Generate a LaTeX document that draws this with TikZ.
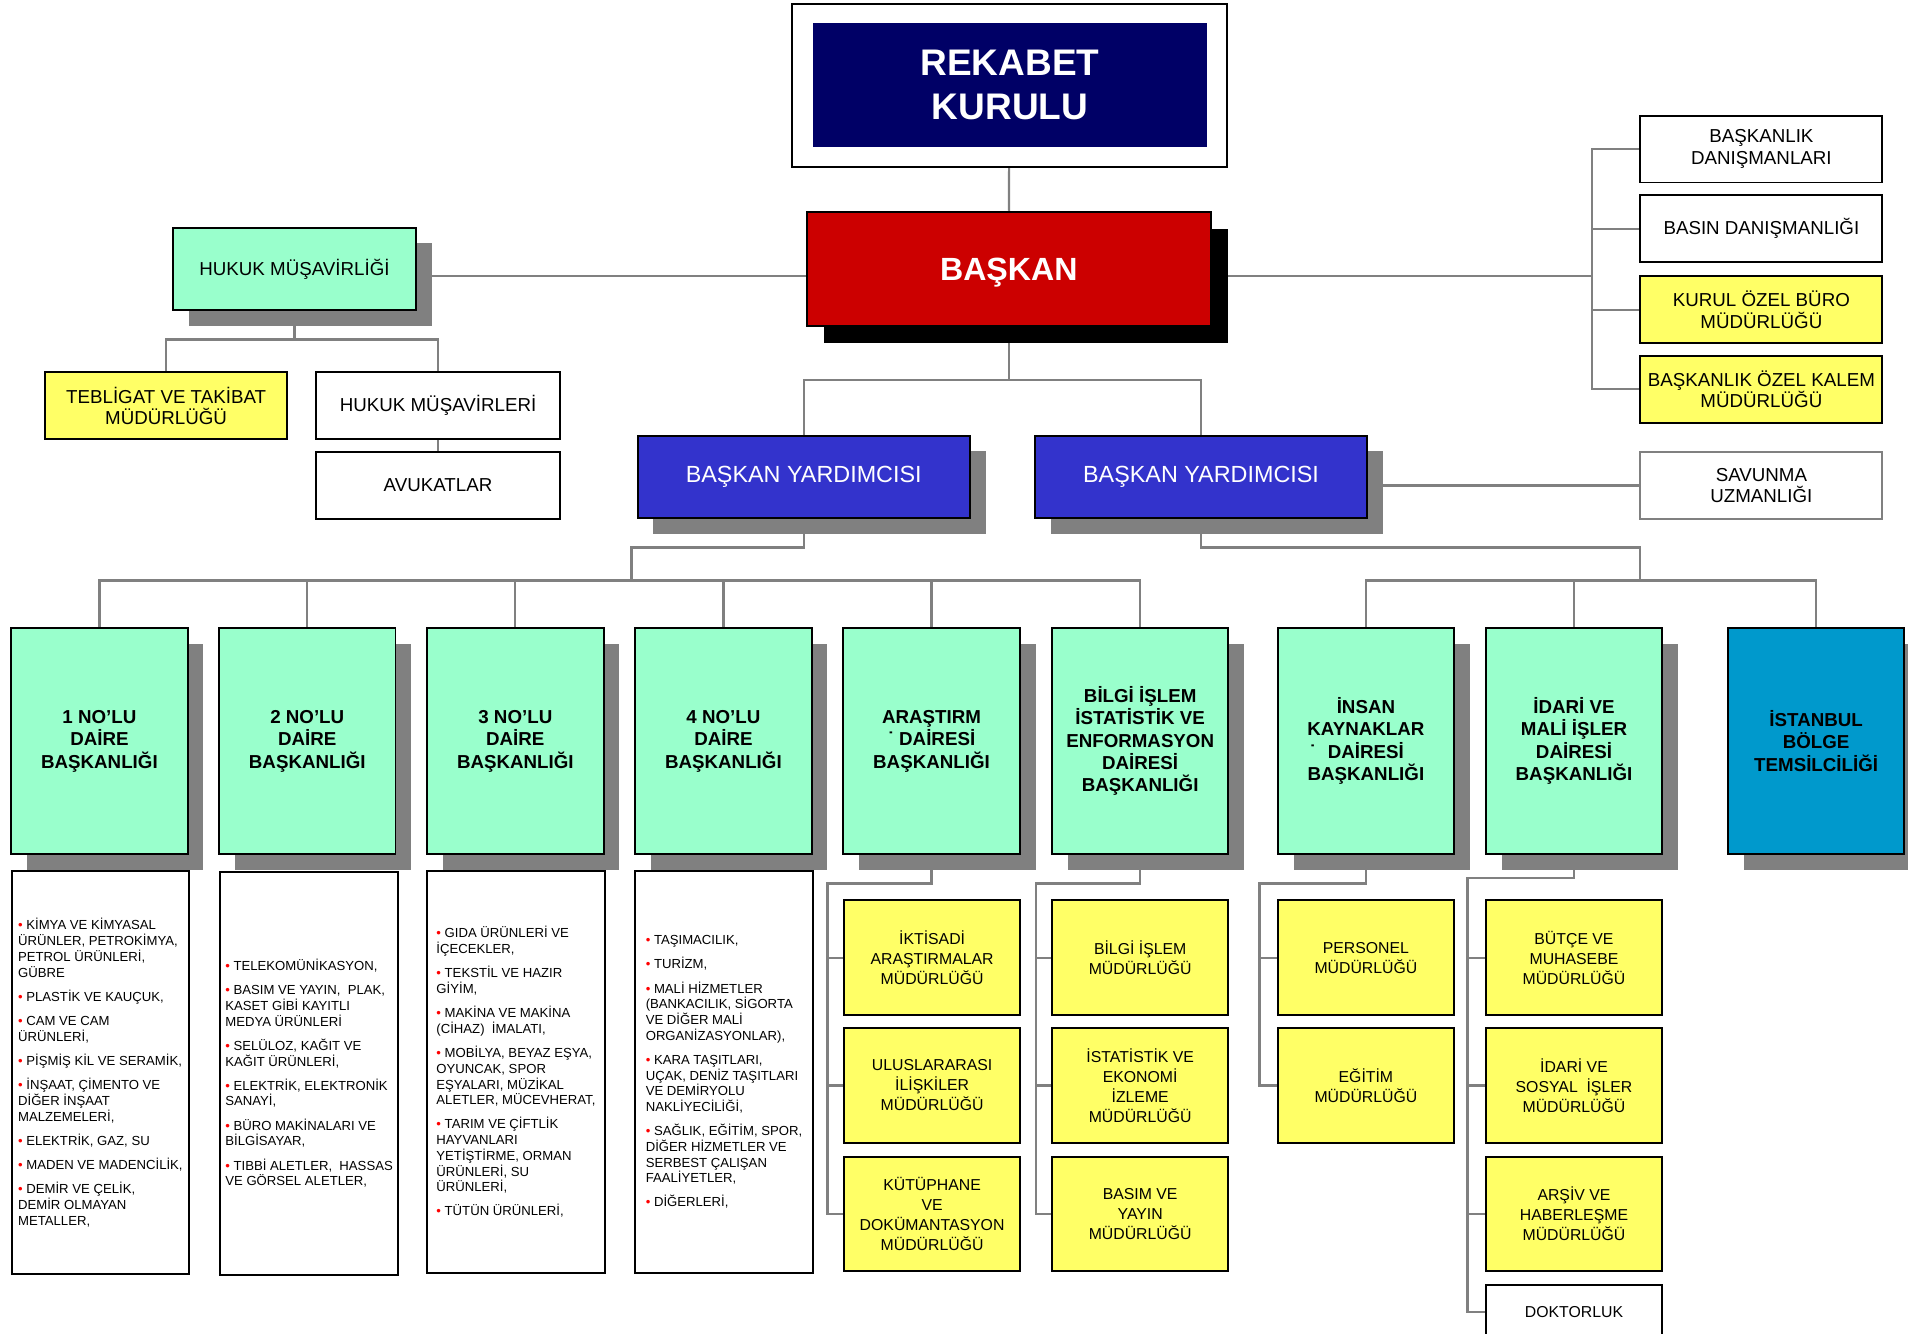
\documentclass[tikz,border=0pt]{standalone}
\usepackage{fontspec}
\setmainfont{Liberation Sans}
\usetikzlibrary{shadows}
\definecolor{navy}{HTML}{000066}
\definecolor{chiefred}{HTML}{CC0000}
\definecolor{vpblue}{HTML}{3333CC}
\definecolor{deptgreen}{HTML}{99FFCC}
\definecolor{unityellow}{HTML}{FFFF66}
\definecolor{regblue}{HTML}{0099CC}
\definecolor{shadowgray}{HTML}{808080}
\definecolor{wire}{HTML}{808080}
\pgfdeclarelayer{back}
\pgfsetlayers{back,main}
\newcommand{\rbul}{{\color{red}\textbullet}~}
\tikzset{
  orgbox/.style={rectangle, draw=black, line width=0.8pt, align=center, inner sep=1pt},
  boxshadow/.style={drop shadow={shadow xshift=6.5pt, shadow yshift=-6.5pt, fill=shadowgray, opacity=1}},
  deptbox/.style={orgbox, boxshadow, fill=deptgreen, minimum width=72.5pt, minimum height=93pt,
    font=\bfseries\fontsize{7.7}{9.2}\selectfont},
  listbox/.style={orgbox, fill=white, align=left, minimum width=73pt, minimum height=165.5pt,
    font=\fontsize{5.4}{6.45}\selectfont},
  unitbox/.style={orgbox, fill=unityellow, minimum width=72.5pt, minimum height=47pt,
    font=\fontsize{6.5}{8.2}\selectfont},
  sidebox/.style={orgbox, fill=white, minimum width=99.5pt, minimum height=27.5pt,
    font=\fontsize{7.7}{8.8}\selectfont},
  vpbox/.style={orgbox, boxshadow, fill=vpblue, text=white, minimum width=136.5pt, minimum height=34pt,
    font=\fontsize{9.6}{11}\selectfont},
  wireline/.style={draw=wire, line width=0.9pt}
}
\begin{document}
\begin{tikzpicture}[x=0.5pt, y=-0.5pt]
\useasboundingbox (0,0) rectangle (1568,1096);

% kurul and baskan
\node[orgbox, fill=white, minimum width=178.5pt, minimum height=67pt] (rkf) at (829.5,70) {};
\node[fill=navy, text=white, align=center, minimum width=162pt, minimum height=51pt,
  font=\bfseries\fontsize{15.2}{18}\selectfont] (rk) at (830,70) {REKABET\\KURULU};
\node[orgbox, fill=chiefred, text=white, minimum width=166pt, minimum height=47pt, text depth=0pt,
  drop shadow={shadow xshift=7pt, shadow yshift=-7pt, fill=black, opacity=1},
  font=\bfseries\fontsize{13.2}{15}\selectfont] (bsk) at (829,221) {BAŞKAN};

% right hand staff
\node[sidebox] (bdan) at (1447.5,122.5) {BAŞKANLIK\\DANIŞMANLARI};
\node[sidebox] (bbas) at (1447.5,188) {BASIN DANIŞMANLIĞI};
\node[sidebox, fill=unityellow] (koz) at (1447.5,254.5) {KURUL ÖZEL BÜRO\\MÜDÜRLÜĞÜ};
\node[sidebox, fill=unityellow] (boz) at (1447.5,320) {BAŞKANLIK ÖZEL KALEM\\MÜDÜRLÜĞÜ};
\node[sidebox, draw=wire] (sav) at (1447.5,399) {SAVUNMA\\UZMANLIĞI};

% legal
\node[orgbox, boxshadow, fill=deptgreen, minimum width=100pt, minimum height=34pt,
  font=\fontsize{7.7}{8.8}\selectfont] (hm) at (242,221) {HUKUK MÜŞAVİRLİĞİ};
\node[sidebox, fill=unityellow] (tt) at (136.5,333.5) {TEBLİGAT VE TAKİBAT\\MÜDÜRLÜĞÜ};
\node[sidebox, minimum width=100pt] (hmr) at (360,333.5) {HUKUK MÜŞAVİRLERİ};
\node[sidebox, minimum width=100pt] (avk) at (360,399) {AVUKATLAR};

% vice presidents
\node[vpbox] (by1) at (660.5,392) {BAŞKAN YARDIMCISI};
\node[vpbox] (by2) at (987,392) {BAŞKAN YARDIMCISI};

% departments
\node[deptbox] (d1) at (81.7,609) {1 NO’LU\\DAİRE\\BAŞKANLIĞI};
\node[deptbox] (d2) at (252.5,609) {2 NO’LU\\DAİRE\\BAŞKANLIĞI};
\node[deptbox] (d3) at (423.5,609) {3 NO’LU\\DAİRE\\BAŞKANLIĞI};
\node[deptbox] (d4) at (594.5,609) {4 NO’LU\\DAİRE\\BAŞKANLIĞI};
\node[deptbox] (ar) at (765.5,609) {ARAŞTIRM\\˙ DAİRESİ\\BAŞKANLIĞI};
\node[deptbox] (bi) at (937,609) {BİLGİ İŞLEM\\İSTATİSTİK VE\\ENFORMASYON\\DAİRESİ\\BAŞKANLIĞI};
\node[deptbox] (ik) at (1122.5,609) {İNSAN\\KAYNAKLAR\\\llap{˙\hspace{5pt}}DAİRESİ\\BAŞKANLIĞI};
\node[deptbox] (im) at (1293.5,609) {İDARİ VE\\MALİ İŞLER\\DAİRESİ\\BAŞKANLIĞI};
\node[deptbox, fill=regblue] (ist) at (1492.5,609) {İSTANBUL\\BÖLGE\\TEMSİLCİLİĞİ};

% sector lists
\node[listbox] (l1) at (82.5,881.5) {\rbul KİMYA VE KİMYASAL\\ÜRÜNLER, PETROKİMYA,\\PETROL ÜRÜNLERİ,\\GÜBRE\\[3.5pt]
  \rbul PLASTİK VE KAUÇUK,\\[3.5pt]
  \rbul CAM VE CAM\\ÜRÜNLERİ,\\[3.5pt]
  \rbul PİŞMİŞ KİL VE SERAMİK,\\[3.5pt]
  \rbul İNŞAAT, ÇİMENTO VE\\DİĞER İNŞAAT\\MALZEMELERİ,\\[3.5pt]
  \rbul ELEKTRİK, GAZ, SU\\[3.5pt]
  \rbul MADEN VE MADENCİLİK,\\[3.5pt]
  \rbul DEMİR VE ÇELİK,\\DEMİR OLMAYAN\\METALLER,};
\node[listbox] (l2) at (254,882) {\rbul TELEKOMÜNİKASYON,\\[3.5pt]
  \rbul BASIM VE YAYIN,\ \ PLAK,\\KASET GİBİ KAYITLI\\MEDYA ÜRÜNLERİ\\[3.5pt]
  \rbul SELÜLOZ, KAĞIT VE\\KAĞIT ÜRÜNLERİ,\\[3.5pt]
  \rbul ELEKTRİK, ELEKTRONİK\\SANAYİ,\\[3.5pt]
  \rbul BÜRO MAKİNALARI VE\\BİLGİSAYAR,\\[3.5pt]
  \rbul TIBBİ ALETLER,\ \ HASSAS\\VE GÖRSEL ALETLER,};
\node[listbox] (l3) at (424,881) {\rbul GIDA ÜRÜNLERİ VE\\İÇECEKLER,\\[3.5pt]
  \rbul TEKSTİL VE HAZIR\\GİYİM,\\[3.5pt]
  \rbul MAKİNA VE MAKİNA\\(CİHAZ)\ \ İMALATI,\\[3.5pt]
  \rbul MOBİLYA, BEYAZ EŞYA,\\OYUNCAK, SPOR\\EŞYALARI, MÜZİKAL\\ALETLER, MÜCEVHERAT,\\[3.5pt]
  \rbul TARIM VE ÇİFTLİK\\HAYVANLARI\\YETİŞTİRME, ORMAN\\ÜRÜNLERİ, SU\\ÜRÜNLERİ,\\[3.5pt]
  \rbul TÜTÜN ÜRÜNLERİ,};
\node[listbox] (l4) at (595,881) {\rbul TAŞIMACILIK,\\[3.5pt]
  \rbul TURİZM,\\[3.5pt]
  \rbul MALİ HİZMETLER\\(BANKACILIK, SİGORTA\\VE DİĞER MALİ\\ORGANİZASYONLAR),\\[3.5pt]
  \rbul KARA TAŞITLARI,\\UÇAK, DENİZ TAŞITLARI\\VE DEMİRYOLU\\NAKLİYECİLİĞİ,\\[3.5pt]
  \rbul SAĞLIK, EĞİTİM, SPOR,\\DİĞER HİZMETLER VE\\SERBEST ÇALIŞAN\\FAALİYETLER,\\[3.5pt]
  \rbul DİĞERLERİ,};

% directorates
\node[unitbox] (ar1) at (766,787) {İKTİSADİ\\ARAŞTIRMALAR\\MÜDÜRLÜĞÜ};
\node[unitbox] (ar2) at (766,892) {ULUSLARARASI\\İLİŞKİLER\\MÜDÜRLÜĞÜ};
\node[unitbox] (ar3) at (766,997.5) {KÜTÜPHANE\\VE\\DOKÜMANTASYON\\MÜDÜRLÜĞÜ};
\node[unitbox] (bi1) at (937,787) {BİLGİ İŞLEM\\MÜDÜRLÜĞÜ};
\node[unitbox] (bi2) at (937,892) {İSTATİSTİK VE\\EKONOMİ\\İZLEME\\MÜDÜRLÜĞÜ};
\node[unitbox] (bi3) at (937,997.5) {BASIM VE\\YAYIN\\MÜDÜRLÜĞÜ};
\node[unitbox] (ik1) at (1122.5,787) {PERSONEL\\MÜDÜRLÜĞÜ};
\node[unitbox] (ik2) at (1122.5,892) {EĞİTİM\\MÜDÜRLÜĞÜ};
\node[unitbox] (im1) at (1293.5,787) {BÜTÇE VE\\MUHASEBE\\MÜDÜRLÜĞÜ};
\node[unitbox] (im2) at (1293.5,892) {İDARİ VE\\SOSYAL\ \ İŞLER\\MÜDÜRLÜĞÜ};
\node[unitbox] (im3) at (1293.5,997.5) {ARŞİV VE\\HABERLEŞME\\MÜDÜRLÜĞÜ};
\node[unitbox, fill=white, minimum height=22pt] (dok) at (1293.5,1078) {DOKTORLUK};

\begin{pgfonlayer}{back}
% top links
\draw[wireline] (rkf) -- (bsk);
\coordinate (rbus) at (1308,227);
\draw[wireline] ([yshift=-3pt]hm.center) -- (rbus);
\draw[wireline] (bdan) -| (rbus) |- (boz);
\draw[wireline] (bbas) -- (bbas -| rbus);
\draw[wireline] (koz) -- (koz -| rbus);
\coordinate (hbus) at (242,279);
\draw[wireline] (hm) -- (hbus);
\draw[wireline] (tt) |- (hbus) -| (hmr);
\draw[wireline] (hmr) -- (avk);
\coordinate (vbus) at (829,312);
\draw[wireline] (bsk) -- (vbus);
\draw[wireline] (by1) |- (vbus) -| (by2);
\draw[wireline] (sav -| by2) -- (sav);
% department links
\coordinate (lknee) at (519,450);
\coordinate (lbus) at (519,477);
\draw[wireline] (by1) |- (lknee) -- (lbus);
\draw[wireline] (d1) |- (lbus) -| (bi);
\foreach \d in {d2,d3,d4,ar}
  \draw[wireline] (\d) -- (\d |- lbus);
\coordinate (rknee) at (1348,450);
\coordinate (rbus2) at (1348,477);
\draw[wireline] (by2) |- (rknee) -- (rbus2);
\draw[wireline] (ik) |- (rbus2) -| (ist);
\draw[wireline] (im) -- (im |- rbus2);
% directorate links
\coordinate (arb) at (680,726);
\draw[wireline] (ar) |- (arb) |- (ar3);
\foreach \u in {ar1,ar2}
  \draw[wireline] (\u) -- (\u -| arb);
\coordinate (bib) at (851.5,726);
\draw[wireline] (bi) |- (bib) |- (bi3);
\foreach \u in {bi1,bi2}
  \draw[wireline] (\u) -- (\u -| bib);
\coordinate (ikb) at (1035,726);
\draw[wireline] (ik) |- (ikb) |- (ik2);
\draw[wireline] (ik1) -- (ik1 -| ikb);
\coordinate (imb) at (1206,721.5);
\draw[wireline] (im) |- (imb) |- (dok);
\foreach \u in {im1,im2,im3}
  \draw[wireline] (\u) -- (\u -| imb);
\end{pgfonlayer}
\end{tikzpicture}
\end{document}
